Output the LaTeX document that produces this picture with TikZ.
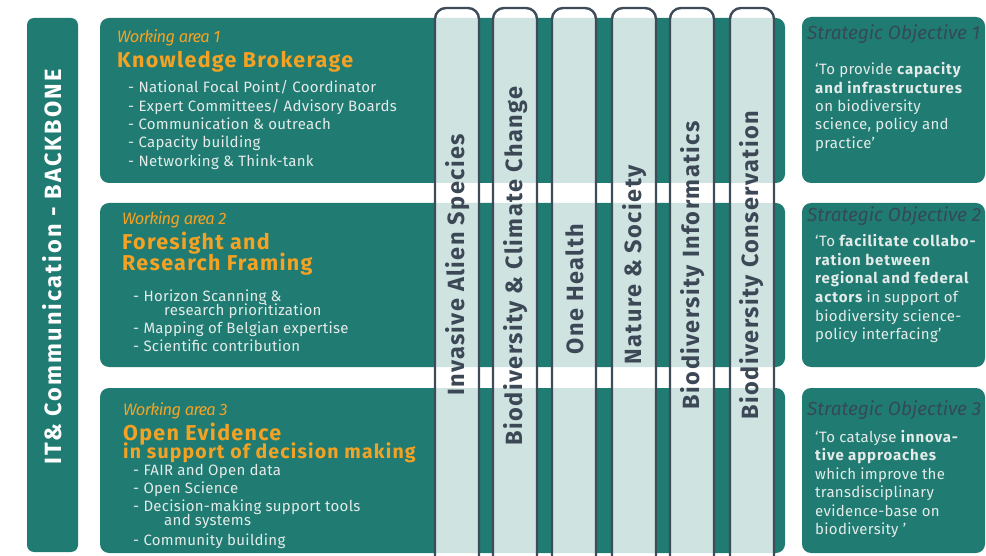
\documentclass[tikz,border=0pt]{standalone}
\usepackage{fontspec}
\setmainfont{Fira Sans}[LetterSpace=2]
\newfontfamily\wideb{Fira Sans}[LetterSpace=6]
\newfontfamily\bbfont{Fira Sans}[LetterSpace=9]
\newfontfamily\waitfont{Fira Sans}[LetterSpace=-4]
\newfontfamily\sotfont{Fira Sans}
\newcommand\sobold[1]{{\wideb\bfseries #1}}
\definecolor{tealc}{RGB}{32,123,114}
\definecolor{orangec}{RGB}{244,162,36}
\definecolor{pline}{RGB}{62,76,90}
\definecolor{ptext}{RGB}{60,72,85}
\definecolor{lighttxt}{RGB}{228,235,233}
\definecolor{sotitle}{RGB}{52,74,86}
\begin{document}
\begin{tikzpicture}[x=1pt,y=-1pt,
  box/.style={fill=tealc, rounded corners=9pt},
  pillar/.style={draw=pline, line width=2.4pt, fill=white, fill opacity=0.79, draw opacity=1},
  ptxt/.style={rotate=90, inner sep=0, text=ptext, font=\wideb\bfseries\fontsize{23.5}{26}\selectfont},
  watitle/.style={anchor=base west, inner sep=0, text=orangec, font=\waitfont\itshape\fontsize{16.5}{20}\selectfont},
  wahead/.style={anchor=base west, inner sep=0, text=orangec, font=\wideb\bfseries\fontsize{21.5}{24}\selectfont},
  wahsub/.style={anchor=base west, inner sep=0, text=orangec, font=\wideb\bfseries\fontsize{19.5}{22}\selectfont},
  item/.style={anchor=base west, inner sep=0, text=lighttxt, font=\fontsize{15}{18}\selectfont},
  sotit/.style={anchor=base west, inner sep=0, text=sotitle, font=\sotfont\itshape\fontsize{19}{22}\selectfont},
  sotxt/.style={anchor=base west, inner sep=0, text=lighttxt, font=\fontsize{15}{18}\selectfont}]
\useasboundingbox (0,0) rectangle (986,556);
% backbone
\fill[tealc, rounded corners=7pt] (27,18) rectangle (78,552);
\node[rotate=90, inner sep=0, text=white, font=\bbfont\bfseries\fontsize{23.5}{26}\selectfont] (bb) at (52,267) {IT\& Communication - BACKBONE};
% working area boxes
\fill[box] (100,18) rectangle (785,183);
\fill[box] (100,203) rectangle (785,367);
\fill[box] (100,388) rectangle (785,553);
% strategic objective boxes
\fill[box] (802,17) rectangle (985,183);
\fill[box] (802,203) rectangle (985,367);
\fill[box] (802,388) rectangle (985,553);
% pillars
\foreach \px in {435,493,552,612,670,730}{
  \draw[pillar] (\px,560) [rounded corners=11pt] -- (\px,8) -- (\px+44,8) [sharp corners] -- (\px+44,560);
}
\node[ptxt] (p1) at (457.5,265) {Invasive Alien Species};
\node[ptxt] (p2) at (515.5,266) {Biodiversity \& Climate Change};
\node[ptxt] (p3) at (574.5,289) {One Health};
\node[ptxt] (p4) at (634.5,265) {Nature \& Society};
\node[ptxt] (p5) at (692.5,265) {Biodiversity Informatics};
\node[ptxt] (p6) at (751.5,265) {Biodiversity Conservation};
% working area 1
\node[watitle] (w1t) at (117,43) {Working area 1};
\node[wahead] (w1h) at (117,68) {Knowledge Brokerage};
\node[item] (w1a) at (128,93) {- National Focal Point/ Coordinator};
\node[item] (w1b) at (128,111.3) {- Expert Committees/ Advisory Boards};
\node[item] (w1c) at (128,129.6) {- Communication \& outreach};
\node[item] (w1d) at (128,148) {- Capacity building};
\node[item] (w1e) at (128,166.3) {- Networking \& Think-tank};
% working area 2
\node[watitle] (w2t) at (122,225) {Working area 2};
\node[wahead] (w2h) at (122,250) {Foresight and};
\node[wahead] (w2i) at (122,271) {Research Framing};
\node[item] (w2a) at (133,301.5) {- Horizon Scanning \&};
\node[item] (w2b) at (164,316) {research prioritization};
\node[item] (w2c) at (133,333.5) {- Mapping of Belgian expertise};
\node[item] (w2d) at (133,351.5) {- Scientific contribution};
% working area 3
\node[watitle] (w3t) at (123,415) {Working area 3};
\node[wahead] (w3h) at (123,440) {Open Evidence};
\node[wahsub] (w3i) at (123,458) {in support of decision making};
\node[item] (w3a) at (133,475) {- FAIR and Open data};
\node[item] (w3b) at (133,493.5) {- Open Science};
\node[item] (w3c) at (133,511.5) {- Decision-making support tools};
\node[item] (w3d) at (164,525.5) {and systems};
\node[item] (w3e) at (133,545) {- Community building};
% strategic objective 1
\node[sotit] (s1t) at (807,40) {Strategic Objective 1};
\node[sotxt] (s1a) at (815,75) {‘To provide \sobold{capacity}};
\node[sotxt] (s1b) at (815,93.3) {\sobold{and infrastructures}};
\node[sotxt] (s1c) at (815,111.6) {on biodiversity};
\node[sotxt] (s1d) at (815,130) {science, policy and};
\node[sotxt] (s1e) at (815,148.3) {practice’};
% strategic objective 2
\node[sotit] (s2t) at (807,222) {Strategic Objective 2};
\node[sotxt] (s2a) at (815,247) {‘To \sobold{facilitate collabo-}};
\node[sotxt] (s2b) at (815,265.5) {\sobold{ration between}};
\node[sotxt] (s2c) at (815,284) {\sobold{regional and federal}};
\node[sotxt] (s2d) at (815,302.5) {\sobold{actors} in support of};
\node[sotxt] (s2e) at (815,321) {biodiversity science-};
\node[sotxt] (s2f) at (815,339.5) {policy interfacing’};
% strategic objective 3
\node[sotit] (s3t) at (807,415) {Strategic Objective 3};
\node[sotxt] (s3a) at (815,442) {‘To catalyse \sobold{innova-}};
\node[sotxt] (s3b) at (815,460.5) {\sobold{tive approaches}};
\node[sotxt] (s3c) at (815,479) {which improve the};
\node[sotxt] (s3d) at (815,497.5) {transdisciplinary};
\node[sotxt] (s3e) at (815,516) {evidence-base on};
\node[sotxt] (s3f) at (815,534.5) {biodiversity ’};
\end{tikzpicture}
\end{document}
